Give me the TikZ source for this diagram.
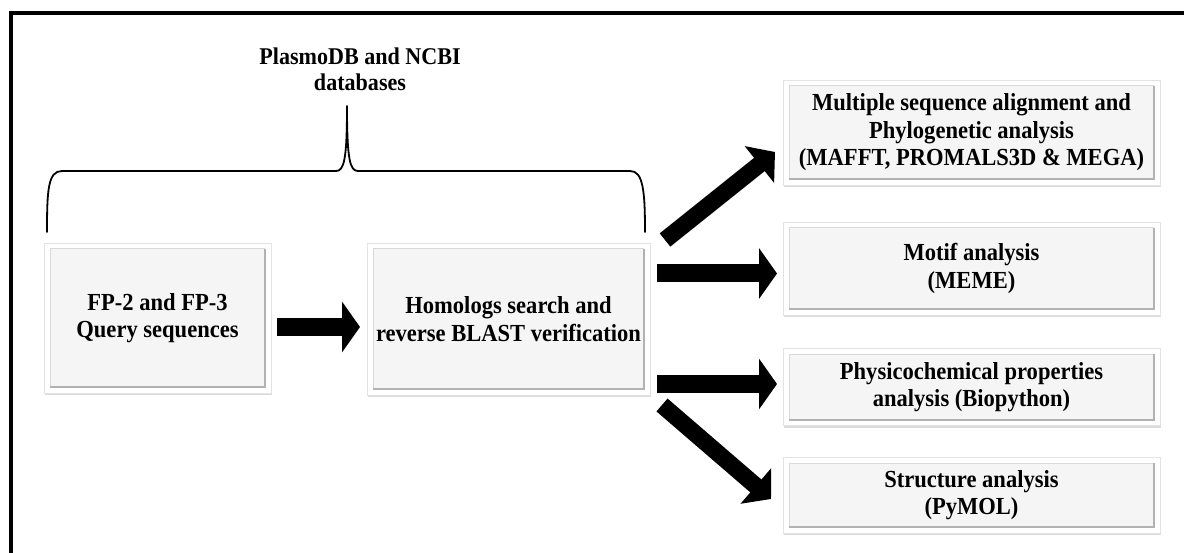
\documentclass[tikz,border=0pt]{standalone}
\usepackage{fontspec}
\setmainfont[FakeStretch=0.92]{Liberation Serif}
\usetikzlibrary{arrows.meta,shadows,calc}
\tikzset{
  boxstyle/.style={rectangle, inner sep=0pt, outer sep=0pt, fill=white, draw=gray!22, line width=0.6pt,
    drop shadow={opacity=0.28, shadow xshift=1.2pt, shadow yshift=-2.2pt},
    align=center, font=\fontsize{24.5}{27.5}\selectfont\bfseries,
    path picture={
      \coordinate (ppnw) at ([shift={(6pt,-6pt)}]path picture bounding box.north west);
      \coordinate (ppse) at ([shift={(-6pt,6pt)}]path picture bounding box.south east);
      \fill[gray!8] (ppnw) rectangle (ppse);
      \draw[gray!30, line width=1pt] (ppnw |- ppse) -- (ppnw) -- (ppse |- ppnw);
      \draw[gray!60, line width=2pt] (ppnw |- ppse) -- (ppse) -- (ppse |- ppnw);
    }},
  bigarrow/.style={line width=18pt, -{Triangle[length=18pt,width=50pt]}},
  diagarrow/.style={line width=17pt, -{Triangle[length=20pt,width=46pt]}},
  bracket/.style={line width=1.8pt, line cap=round, line join=round},
  frameline/.style={line width=3.5pt},
  toplabel/.style={align=center, font=\fontsize{24}{26}\selectfont\bfseries},
}
\begin{document}
\begin{tikzpicture}[x=1pt,y=-1pt]
\useasboundingbox (0,0) rectangle (1184,553);
\fill[white] (0,0) rectangle (1184,553);
% frame (top and left)
\draw[frameline] (11,553) -- (11,13) -- (1184,13);

% boxes
\node[boxstyle, minimum width=227, minimum height=150] (fp) at (157.5,318) {FP-2 and FP-3\\Query sequences};
\node[boxstyle, minimum width=283, minimum height=152] (hom) at (508.5,319) {Homologs search and\\reverse BLAST verification};
\node[boxstyle, minimum width=377, minimum height=105] (msa) at (971.5,132.5) {Multiple sequence alignment and\\Phylogenetic analysis\\(MAFFT, PROMALS3D \& MEGA)};
\node[boxstyle, minimum width=377, minimum height=93] (motif) at (971.5,268.5) {Motif analysis\\(MEME)};
\node[boxstyle, minimum width=377, minimum height=77] (phys) at (971.5,387) {Physicochemical properties\\analysis (Biopython)};
\node[boxstyle, minimum width=377, minimum height=76] (struct) at (971.5,495) {Structure analysis\\(PyMOL)};

% top label and bracket
\node[toplabel] (db) at (360,69) {PlasmoDB and NCBI\\databases};
\coordinate (brtip) at (347,106);
\draw[bracket] (47,232) .. controls (47,190) and (48,171) .. (62,171) -- (336,171)
  .. controls (344,171) and (347,160) .. (brtip)
  .. controls (347,160) and (350,171) .. (358,171) -- (630,171)
  .. controls (643,171) and (645,190) .. (645,232);

% arrows
\draw[bigarrow] ([shift={(6,9)}]fp.east) -- ([shift={(-7,8)}]hom.west);
\draw[bigarrow] ([shift={(7,-45.5)}]hom.east) -- ([shift={(-6,5)}]motif.west);
\draw[bigarrow] ([shift={(7,65)}]hom.east) -- ([shift={(-6,-3)}]phys.west);
\draw[diagarrow] ([shift={(15,-3)}]hom.north east) -- ([shift={(-8,-33)}]msa.south west);
\draw[diagarrow] ([shift={(12,10)}]hom.south east) -- ([shift={(-12,42)}]struct.north west);
\end{tikzpicture}
\end{document}
